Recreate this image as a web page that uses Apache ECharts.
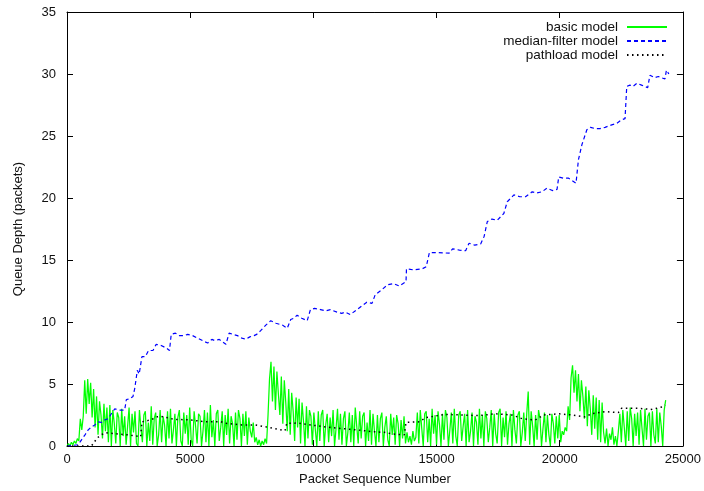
<!DOCTYPE html>
<html>
<head>
<meta charset="utf-8">
<script src="https://cdn.jsdelivr.net/npm/echarts@6/dist/echarts.min.js"></script>
<style>
  html, body { margin: 0; padding: 0; background: #fff; }
  #chart { width: 704px; height: 491px; }
</style>
</head>
<body>
<div id="chart"></div>
<script>
// Queue depth estimates per packet sequence number, three estimators.

// basic model: one sample every basicStride packets, starting at packet 0
const basicStride = 60;
const basicDepth = [
  0, 0.2, 0, 0.3, 0.1, 0.4, 0.2, 0.6, 0.4, 2.2,
  1.3, 2.4, 5.3, 2.6, 5.4, 3.4, 5.1, 2.3, 4.6, 1.5,
  4.0, 0.9, 3.6, 2.5, 0.6, 3.4, 1.2, 3.1, 0.3, 3.3,
  0, 2.9, 1.8, 0.2, 2.7, 2.3, 0, 3.0, 0.8, 2.4,
  0.1, 1.6, 3.1, 0, 2.6, 1.1, 2.8, 0.2, 0, 2.9,
  1.5, 0.3, 2.5, 2.8, 0, 1.9, 0.4, 3.2, 0.1, 2.2,
  2.7, 0, 0.9, 2.9, 0.3, 2.4, 1.7, 0, 2.8, 0.6,
  3.0, 0.2, 1.3, 2.6, 0, 2.3, 2.9, 0.4, 0, 2.7,
  1.0, 2.5, 0.1, 3.1, 0.5, 0, 2.8, 1.6, 0.2, 2.6,
  2.4, 0, 1.2, 2.9, 0.3, 2.7, 0, 3.3, 0.7, 2.1,
  0, 2.6, 2.9, 0.4, 1.5, 2.8, 0, 2.5, 0.9, 3.0,
  0.2, 2.4, 1.8, 0, 2.7, 0.5, 2.9, 2.2, 0, 2.6,
  0.8, 2.8, 0.1, 2.3, 1.2, 0.7, 1.9, 0.3, 0.7, 0.1,
  0.5, 0, 0.4, 0.1, 0.6, 0.2, 2.5, 5.4, 6.8, 3.6,
  6.4, 2.9, 6.0, 4.2, 2.5, 5.6, 1.8, 5.3, 3.5, 1.2,
  4.6, 0.9, 4.3, 2.8, 0.4, 3.9, 1.5, 3.8, 0.2, 3.5,
  2.0, 0, 3.2, 0.6, 2.9, 2.4, 0.1, 2.7, 1.3, 0,
  2.8, 0.4, 2.5, 2.9, 0, 1.7, 2.6, 0.3, 2.3, 0.8,
  2.9, 0, 1.4, 3.0, 0.5, 2.6, 0.1, 2.2, 2.8, 0,
  1.1, 2.7, 0.3, 2.5, 0, 3.1, 1.6, 0.2, 2.8, 0.6,
  2.4, 2.7, 0, 1.9, 0.4, 2.9, 0.1, 2.6, 1.2, 0,
  2.5, 0.3, 2.2, 2.7, 0, 1.5, 2.4, 0.5, 0, 2.6,
  0.9, 2.3, 0.1, 2.5, 1.8, 0, 2.1, 0.6, 2.4, 0.2,
  1.1, 0.3, 0.8, 0.1, 1.2, 0.4, 0.7, 2.7, 0.2, 2.9,
  1.4, 0, 2.6, 2.8, 0.3, 2.2, 0, 3.0, 1.0, 2.5,
  0.1, 2.8, 1.7, 0, 2.6, 0.5, 2.9, 2.3, 0, 1.3,
  2.7, 0.2, 3.0, 0.8, 0, 2.5, 2.8, 0.4, 1.6, 2.6,
  0, 2.9, 0.3, 1.2, 2.7, 0, 2.4, 1.9, 0.1, 3.0,
  0.6, 2.5, 0, 2.8, 2.2, 0.3, 1.5, 2.9, 0, 2.6,
  1.0, 0.2, 2.7, 3.0, 0, 2.3, 0.7, 2.8, 0.1, 1.8,
  2.6, 0, 2.9, 1.3, 0.2, 2.5, 2.8, 0, 1.1, 2.7,
  0.4, 2.6, 4.4, 0.1, 2.8, 1.6, 0, 2.5, 0.5, 2.9,
  2.2, 0, 1.4, 2.7, 0.3, 2.5, 0.9, 0, 2.6, 1.8,
  0.2, 2.4, 0.6, 2.5, 0.3, 1.2, 0.9, 1.5, 1.2, 3.2,
  2.1, 5.5, 6.5, 4.3, 6.1, 3.6, 5.8, 2.8, 5.3, 4.0,
  2.2, 4.8, 1.6, 4.5, 3.0, 0.9, 4.1, 1.4, 3.9, 0.5,
  3.7, 0.3, 3.5, 1.1, 0.2, 1.4, 0, 1.0, 0.5, 1.5,
  0.1, 0.8, 0, 1.2, 2.6, 0.3, 2.9, 1.5, 0, 2.8,
  0.4, 3.1, 2.2, 0, 2.6, 0.8, 2.7, 0.1, 2.9, 1.4,
  0, 3.0, 0.5, 2.4, 2.7, 0, 2.8, 0.9, 0.2, 3.0,
  0.3, 2.7, 1.6, 0, 2.9, 3.7
];

// median-filter model: [packet sequence number, depth]
const medianSeq = [
  0, 450, 590, 730, 860, 1000, 1130, 1260, 1400, 1530, 1670, 1800, 1940, 2140, 2340,
  2410, 2540, 2680, 2750, 2855, 2930, 3040, 3180, 3310, 3490, 3620, 3825, 4030, 4160,
  4230, 4400, 4560, 4740, 4900, 5100, 5300, 5500, 5710, 5880, 6000, 6180, 6450, 6580,
  6750, 6920, 7100, 7260, 7420, 7590, 7700, 7860, 8070, 8270, 8480, 8740, 8940, 9080,
  9200, 9340, 9530, 9750, 9880, 10050, 10290, 10500, 10690, 10960, 11150, 11300, 11500,
  11770, 11970, 12170, 12380, 12510, 12780, 13010, 13250, 13490, 13760, 13780, 14080,
  14430, 14580, 14710, 15080, 15510, 15650, 15930, 16180, 16320, 16550, 16790, 16930,
  17060, 17250, 17460, 17730, 17870, 18140, 18380, 18610, 18880, 19050, 19280, 19480,
  19700, 19890, 19960, 20150, 20360, 20660, 20760, 20900, 21100, 21250, 21440, 21640,
  21840, 22110, 22300, 22510, 22650, 22720, 22850, 22980, 23130, 23320, 23570, 23660,
  23850, 24000, 24270, 24330, 24430
];
const medianDepth = [
  0, 0.1, 0.5, 0.9, 1.3, 1.55, 1.7, 1.95, 1.9, 2.1, 2.2, 2.6, 3.0, 2.9, 2.9,
  3.75, 3.8, 4.0, 4.65, 6.1, 5.8, 7.2, 7.2, 7.7, 7.7, 8.2, 8.1, 7.9, 7.7,
  9.0, 9.1, 8.9, 8.9, 9.0, 8.9, 8.7, 8.5, 8.3, 8.6, 8.5, 8.6, 8.2, 9.1,
  9.0, 8.9, 8.7, 8.6, 8.8, 8.9, 9.0, 9.3, 9.75, 10.1, 9.9, 9.75, 9.5, 10.2,
  10.3, 10.55, 10.3, 10.1, 11.0, 11.1, 11.0, 10.9, 11.0, 10.8, 10.7, 10.8, 10.6,
  11.0, 11.3, 11.6, 11.5, 12.2, 12.6, 13.0, 13.1, 12.9, 13.25, 14.3, 14.2,
  14.3, 14.45, 15.6, 15.6, 15.55, 15.9, 15.8, 15.75, 16.35, 16.2, 16.3, 16.9,
  18.1, 18.3, 18.2, 18.75, 19.7, 20.25, 20.1, 20.1, 20.5, 20.4, 20.5, 20.8,
  20.6, 20.7, 21.7, 21.6, 21.6, 21.2, 23.1, 24.3, 25.5, 25.7, 25.6, 25.6,
  25.7, 25.9, 26.0, 26.3, 26.4, 29.0, 29.1, 29.0, 29.25, 29.1, 28.9, 29.9,
  29.7, 29.8, 29.6, 30.3, 30.0
];

// pathload model: [packet sequence number, depth]
const pathloadSeq = [
  0, 980, 1080, 1200, 1380, 1580, 1880, 2450, 2990, 3040, 3060, 3390, 3660, 3800,
  4360, 5040, 5580, 6250, 6420, 7100, 7630, 8040, 8440, 8850, 8920, 9380, 9900,
  10420, 11090, 11760, 12420, 12880, 13220, 13690, 13760, 14300, 14570, 15380,
  16040, 16720, 17400, 18060, 18480, 19010, 19350, 19960, 20490, 21030, 21300,
  21840, 22380, 22510, 23190, 23730, 24200, 24280
];
const pathloadDepth = [
  0, 0, 0.2, 0.6, 0.9, 1.07, 1.0, 0.9, 0.75, 1.95, 2.1, 2.1, 2.35, 2.4,
  2.15, 2.1, 1.95, 1.95, 1.83, 1.7, 1.7, 1.55, 1.4, 1.24, 1.83, 1.85, 1.7,
  1.55, 1.42, 1.3, 1.15, 1.1, 0.97, 0.9, 1.9, 1.95, 2.3, 2.55,
  2.5, 2.45, 2.6, 2.5, 2.2, 2.1, 2.5, 2.6, 2.5, 2.35, 2.6,
  2.77, 2.7, 3.04, 3.04, 2.95, 3.17, 3.3
];

// x and y ticks
const xTicks = [0, 5000, 10000, 15000, 20000, 25000];
const yTicks = [0, 5, 10, 15, 20, 25, 30, 35];

const seriesNames = ['basic model', 'median-filter model', 'pathload model'];

const basicData = basicDepth.map((v, i) => [i * basicStride, v]);
const medianData = medianSeq.map((x, i) => [x, medianDepth[i]]);
const pathloadData = pathloadSeq.map((x, i) => [x, pathloadDepth[i]]);

const FONT = 'Liberation Sans';
const FS = 13;
const chart = echarts.init(document.getElementById('chart'), null, { renderer: 'canvas' });

const frameLine = { show: true, onZero: false, lineStyle: { color: '#000', width: 1 } };
const tickIn = { show: true, inside: true, length: 6, lineStyle: { color: '#000', width: 1 } };

function legendAt(name, top) {
  return {
    data: [name],
    right: 36,
    top: top,
    align: 'right',
    itemWidth: 40,
    itemHeight: 10,
    padding: 0,
    selectedMode: false,
    itemStyle: { opacity: 0 },
    textStyle: { fontFamily: FONT, fontSize: 13.5, color: '#111', padding: [0, 4, 0, 0] }
  };
}

chart.setOption({
  animation: false,
  backgroundColor: '#fff',
  grid: { left: 67, right: 19, top: 12, bottom: 45 },
  legend: [
    legendAt(seriesNames[0], 20),
    legendAt(seriesNames[1], 34),
    legendAt(seriesNames[2], 48)
  ],
  xAxis: [
    {
      type: 'value', position: 'bottom',
      min: xTicks[0], max: xTicks[xTicks.length - 1], interval: xTicks[1] - xTicks[0],
      axisLine: frameLine, axisTick: tickIn, splitLine: { show: false },
      axisLabel: { fontFamily: FONT, fontSize: FS, color: '#111', margin: 7, formatter: v => String(v) },
      name: 'Packet Sequence Number', nameLocation: 'middle', nameGap: 27,
      nameTextStyle: { fontFamily: FONT, fontSize: FS, color: '#111' }
    },
    {
      type: 'value', position: 'top',
      min: xTicks[0], max: xTicks[xTicks.length - 1], interval: xTicks[1] - xTicks[0],
      axisLine: frameLine, axisTick: tickIn, axisLabel: { show: false }, splitLine: { show: false }
    }
  ],
  yAxis: [
    {
      type: 'value', position: 'left',
      min: yTicks[0], max: yTicks[yTicks.length - 1], interval: yTicks[1] - yTicks[0],
      axisLine: frameLine, axisTick: tickIn, splitLine: { show: false },
      axisLabel: { fontFamily: FONT, fontSize: FS, color: '#111', margin: 11 },
      name: 'Queue Depth (packets)', nameLocation: 'middle', nameGap: 42,
      nameTextStyle: { fontFamily: FONT, fontSize: FS, color: '#111' }
    },
    {
      type: 'value', position: 'right',
      min: yTicks[0], max: yTicks[yTicks.length - 1], interval: yTicks[1] - yTicks[0],
      axisLine: frameLine, axisTick: tickIn, axisLabel: { show: false }, splitLine: { show: false }
    }
  ],
  series: [
    {
      name: seriesNames[0], type: 'line', data: basicData,
      symbol: 'none', showSymbol: false, smooth: false, z: 2,
      itemStyle: { color: '#00ff00' },
      lineStyle: { color: '#00ff00', width: 1.25 }
    },
    {
      name: seriesNames[1], type: 'line', data: medianData,
      symbol: 'none', showSymbol: false, smooth: false, z: 3,
      itemStyle: { color: '#0000ff' },
      lineStyle: { color: '#0000ff', width: 1.2, type: [4, 3] }
    },
    {
      name: seriesNames[2], type: 'line', data: pathloadData,
      symbol: 'none', showSymbol: false, smooth: false, z: 4,
      itemStyle: { color: '#000' },
      lineStyle: { color: '#000', width: 1.5, type: [1.5, 3.5] }
    }
  ]
});
</script>
</body>
</html>
